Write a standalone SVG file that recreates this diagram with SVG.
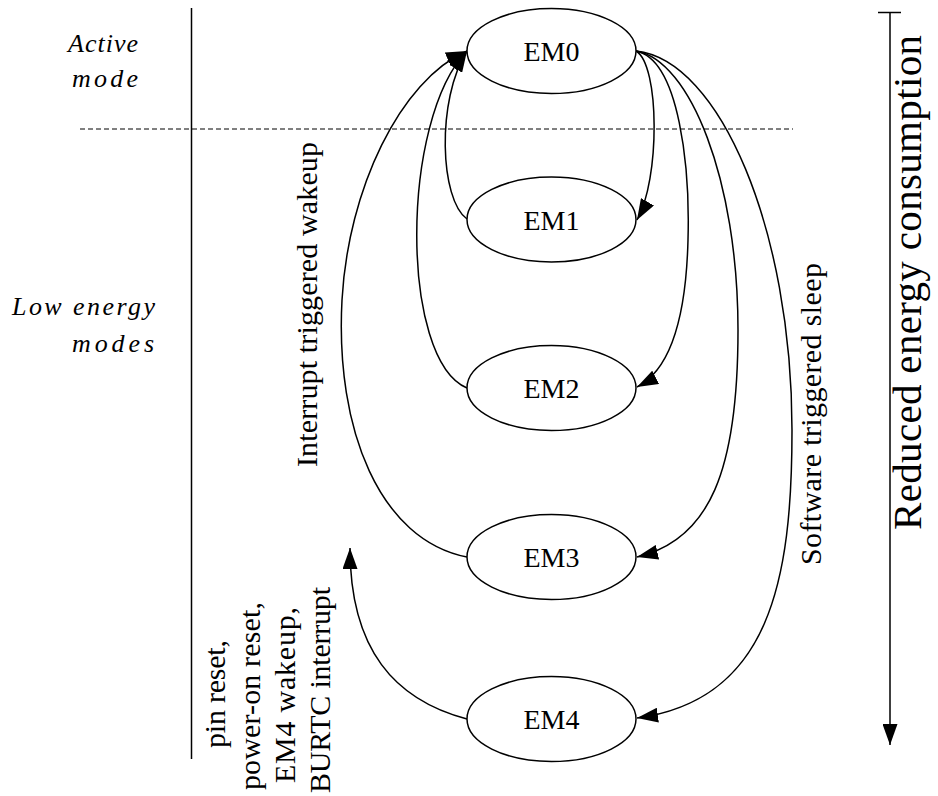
<svg xmlns="http://www.w3.org/2000/svg" width="938" height="796" viewBox="0 0 938 796">
<style>
.node ellipse{fill:#fff;stroke:#000;stroke-width:1.5}
.lbl{font-family:"Liberation Serif","Times New Roman",serif;font-size:28px;fill:#000;text-anchor:middle}
.txt{font-family:"Liberation Serif","Times New Roman",serif;font-size:30px;fill:#000}
.it{font-family:"Liberation Serif","Times New Roman",serif;font-size:26px;font-style:italic;fill:#000}
.edge{fill:none;stroke:#000;stroke-width:1.5;marker-end:url(#ah)}
.rule{fill:none;stroke:#000;stroke-width:1.5}
</style>
<defs>
<marker id="ah" markerUnits="userSpaceOnUse" markerWidth="21" markerHeight="15" refX="21" refY="7.5" orient="auto">
<path d="M0,0 L21,7.5 L0,15 Z" fill="#000"/>
</marker>
</defs>
<rect width="938" height="796" fill="#fff"/>
<g id="guides">
<line class="rule" x1="191.5" y1="8" x2="191.5" y2="759"/>
<line x1="80" y1="129" x2="793" y2="129" stroke="#000" stroke-width="1" stroke-dasharray="5 3"/>
<line class="rule" x1="878" y1="12.5" x2="901" y2="12.5"/>
<line class="rule" x1="890" y1="12.5" x2="890" y2="745" style="marker-end:url(#ah)"/>
</g>
<g id="labels">
<text class="it" x="68" y="52" textLength="70" lengthAdjust="spacing">Active</text>
<text class="it" x="72" y="87" textLength="66" lengthAdjust="spacing">mode</text>
<text class="it" x="12" y="315" textLength="143" lengthAdjust="spacing">Low energy</text>
<text class="it" x="72" y="352" textLength="82" lengthAdjust="spacing">modes</text>
<text class="txt" transform="translate(317,467) rotate(-90)" textLength="325" lengthAdjust="spacing">Interrupt triggered wakeup</text>
<text class="txt" transform="translate(821,565) rotate(-90)" textLength="302" lengthAdjust="spacing">Software triggered sleep</text>
<text class="txt" style="font-size:41px" transform="translate(921,530) rotate(-90)" textLength="495" lengthAdjust="spacing">Reduced energy consumption</text>
<text class="txt" transform="translate(225,748) rotate(-90)" textLength="108" lengthAdjust="spacing">pin reset,</text>
<text class="txt" transform="translate(260,790) rotate(-90)" textLength="188" lengthAdjust="spacing">power-on reset,</text>
<text class="txt" transform="translate(295,783) rotate(-90)" textLength="176" lengthAdjust="spacing">EM4 wakeup,</text>
<text class="txt" transform="translate(330,793) rotate(-90)" textLength="206" lengthAdjust="spacing">BURTC interrupt</text>
</g>
<g id="connectors">
<path class="edge" d="M636,51 C660,65 660,180 637,220"/>
<path class="edge" d="M636,51 C680,60 690,170 688,240 C686,320 670,370 637,387"/>
<path class="edge" d="M636,51 C690,60 738,180 738,330 C738,470 710,540 637,557"/>
<path class="edge" d="M636,51 C720,60 792,230 792,430 C792,580 770,700 637,718"/>
<path class="edge" d="M467,219 C440,200 436,100 467,51"/>
<path class="edge" d="M467,388 C400,360 400,120 467,51"/>
<path class="edge" d="M467,557 C380,540 335,430 342,300 C348,190 400,80 467,51"/>
<path class="edge" d="M467,719 C395,700 350,650 350,548"/>
</g>
<g id="EM0" class="node"><ellipse cx="551.5" cy="51" rx="84.5" ry="42.5"/><text class="lbl" x="551.5" y="61">EM0</text></g>
<g id="EM1" class="node"><ellipse cx="551.5" cy="219.5" rx="84.5" ry="42.5"/><text class="lbl" x="551.5" y="229.5">EM1</text></g>
<g id="EM2" class="node"><ellipse cx="551.5" cy="388" rx="84.5" ry="42.5"/><text class="lbl" x="551.5" y="398">EM2</text></g>
<g id="EM3" class="node"><ellipse cx="551.5" cy="557" rx="84.5" ry="42.5"/><text class="lbl" x="551.5" y="567">EM3</text></g>
<g id="EM4" class="node"><ellipse cx="551.5" cy="719" rx="84.5" ry="42.5"/><text class="lbl" x="551.5" y="729">EM4</text></g>
</svg>
